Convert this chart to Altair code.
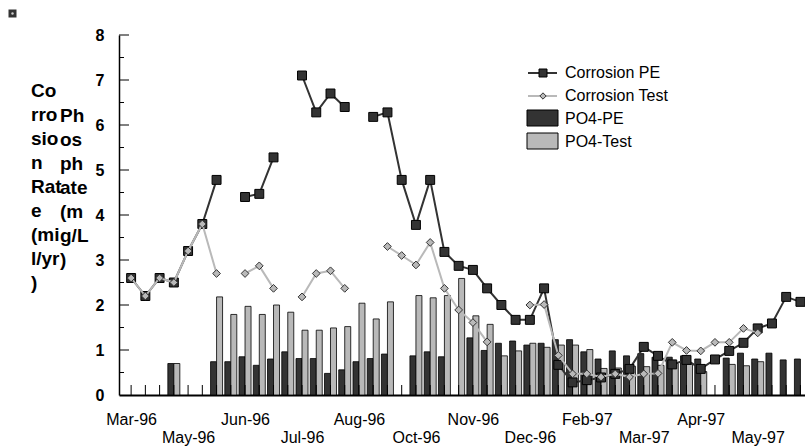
import altair as alt
import pandas as pd

# Weekly sampling index (0 = first week of Mar-96)
idx = list(range(48))

corrosion_pe = [2.6, 2.2, 2.6, 2.5, 3.2, 3.8, 4.78, None, 4.4, 4.47, 5.28, None,
                7.1, 6.28, 6.7, 6.4, None, 6.18, 6.28, 4.78, 3.78, 4.78, 3.18, 2.87,
                2.78, 2.37, 2.0, 1.67, 1.67, 2.37, 0.67, 0.28, 0.33, 0.39, 0.47, 0.58,
                1.07, 0.87, 0.68, 0.78, 0.58, 0.79, 0.98, 1.16, 1.48, 1.59, 2.18, 2.07]

corrosion_test = [2.6, 2.2, 2.6, 2.5, 3.2, 3.8, 2.7, None, 2.7, 2.87, 2.37, None,
                  2.18, 2.7, 2.76, 2.37, None, None, 3.3, 3.1, 2.89, 3.39, 2.37, 1.89,
                  1.61, 1.18, None, None, 2.0, 2.01, 0.88, 0.47, 0.47, 0.4, 0.47, 0.4,
                  0.47, 0.48, 1.17, 0.99, 0.98, 1.17, 1.17, 1.48, 1.38, None, None, None]

po4_pe = [None, None, None, 0.7, None, None, 0.74, 0.74, 0.85, 0.66, 0.8, 0.96,
          0.81, 0.81, 0.48, 0.56, 0.74, 0.81, 0.91, None, 0.87, 0.96, 0.85, None,
          1.27, 0.99, 1.15, 1.2, 1.11, 1.15, 1.23, 1.23, 0.96, 0.8, 0.98, 0.87,
          0.92, 0.84, 0.84, 0.87, 0.8, None, 0.82, 0.93, 0.8, 0.93, 0.78, 0.8]

po4_test = [None, None, None, 0.7, None, None, 2.18, 1.79, 1.97, 1.79, 2.0, 1.84,
            1.44, 1.44, 1.49, 1.52, 2.04, 1.69, 2.07, None, 2.21, 2.16, 2.21, 2.59,
            1.76, 1.57, 0.87, 0.98, 1.15, 1.06, 1.11, 1.11, 1.01, 0.59, 0.6, 0.64,
            0.63, 0.66, 0.7, 0.68, 0.52, None, 0.68, 0.65, 0.74, None, None, None]

label_idx = [0, 4, 8, 12, 16, 20, 24, 28, 32, 36, 40, 44]
month_labels = ["Mar-96", "May-96", "Jun-96", "Jul-96", "Aug-96", "Oct-96",
                "Nov-96", "Dec-96", "Feb-97", "Mar-97", "Apr-97", "May-97"]

y_major = [1, 2, 3, 4, 5, 6, 7, 8]
y_minor = [0.5, 1.5, 2.5, 3.5, 4.5, 5.5, 6.5, 7.5]

FONT = "Liberation Sans"
DARK = "#333333"
LIGHT = "#b9b9b9"
W, H = 686, 360


def runs(values):
    """Rows for the valid points, with a segment id so gaps break the line."""
    rows, seg, prev = [], 0, False
    for i, v in zip(idx, values):
        if v is None:
            prev = False
            continue
        if not prev:
            seg += 1
        rows.append({"idx": i, "value": v, "seg": seg})
        prev = True
    return pd.DataFrame(rows)


pe_df = runs(corrosion_pe)
test_df = runs(corrosion_test)
bar_pe_df = runs(po4_pe)
bar_test_df = runs(po4_test)
idx_df = pd.DataFrame({"idx": idx})
major_df = pd.DataFrame({"v": y_major})
minor_df = pd.DataFrame({"v": y_minor})
one = pd.DataFrame({"k": [0]})  # single row for one-off annotation marks

x_scale = alt.Scale(domain=[-0.5, 46.97], nice=False, zero=False)
y_scale = alt.Scale(domain=[0, 8], nice=False)

labels_js = "[" + ",".join("'%s'" % t for t in month_labels) + "]"
pos_js = "[" + ",".join(str(v) for v in label_idx) + "]"
k_js = "indexof(%s, datum.value)" % pos_js
label_expr = "%s %% 2 == 0 ? %s[%s] : ['', %s[%s]]" % (k_js, labels_js, k_js, labels_js, k_js)

x_axis = alt.Axis(values=label_idx, labelExpr=label_expr, ticks=False, tickSize=0,
                  grid=False, domainColor="black", domainWidth=2,
                  labelFont=FONT, labelFontSize=16, labelColor="black",
                  labelPadding=29, labelBaseline="alphabetic", labelLineHeight=18.5,
                  labelOverlap=False, labelFlush=False, title=None)
y_axis = alt.Axis(values=list(range(9)), ticks=False, tickSize=0, grid=False,
                  domainColor="black", domainWidth=1.5,
                  labelFont=FONT, labelFontSize=16, labelFontWeight="bold",
                  labelColor="black", labelPadding=15, labelFlush=False, title=None)

X = alt.X("idx:Q", scale=x_scale, axis=x_axis)
Y = alt.Y("value:Q", scale=y_scale, axis=y_axis)

bars_pe = alt.Chart(bar_pe_df).mark_bar(
    width=6, xOffset=-3, fill=DARK, stroke="black", strokeWidth=0.8
).encode(x=X, y=Y)
bars_test = alt.Chart(bar_test_df).mark_bar(
    width=6, xOffset=3, fill=LIGHT, stroke="black", strokeWidth=0.8
).encode(x=X, y=Y)

# category ticks rising from the baseline
cat_ticks = alt.Chart(idx_df).mark_rule(color="black", strokeWidth=1).encode(
    x=alt.X("idx:Q", scale=x_scale, axis=x_axis),
    y=alt.value(H), y2=alt.value(H - 10))

# inside ticks on the value axis
major_ticks = alt.Chart(major_df).mark_rule(color="black", strokeWidth=1).encode(
    y=alt.Y("v:Q", scale=y_scale, axis=y_axis), x=alt.value(0), x2=alt.value(10))
minor_ticks = alt.Chart(minor_df).mark_rule(color="black", strokeWidth=1).encode(
    y=alt.Y("v:Q", scale=y_scale, axis=y_axis), x=alt.value(0), x2=alt.value(5))

pe_line = alt.Chart(pe_df).mark_line(color=DARK, strokeWidth=2).encode(
    x=X, y=Y, detail="seg:N")
pe_pts = alt.Chart(pe_df).mark_point(
    shape="square", filled=True, size=80, fill=DARK, stroke="black", strokeWidth=1, opacity=1
).encode(x=X, y=Y)

test_line = alt.Chart(test_df).mark_line(color=LIGHT, strokeWidth=2).encode(
    x=X, y=Y, detail="seg:N")
test_pts = alt.Chart(test_df).mark_point(
    shape="diamond", filled=True, size=60, fill=LIGHT, stroke=DARK, strokeWidth=1, opacity=1
).encode(x=X, y=Y)

# legend
LX0, LX1, LXC, LTX = 409, 438, 424, 446
leg = [
    alt.Chart(one).mark_rule(color=DARK, strokeWidth=2).encode(
        x=alt.value(LX0), x2=alt.value(LX1), y=alt.value(38)),
    alt.Chart(one).mark_point(shape="square", filled=True, size=64, fill=DARK,
                              stroke="black", strokeWidth=1, opacity=1).encode(
        x=alt.value(LXC), y=alt.value(38)),
    alt.Chart(one).mark_rule(color=LIGHT, strokeWidth=2).encode(
        x=alt.value(LX0), x2=alt.value(LX1), y=alt.value(61)),
    alt.Chart(one).mark_point(shape="diamond", filled=True, size=40, fill=LIGHT,
                              stroke=DARK, strokeWidth=1, opacity=1).encode(
        x=alt.value(LXC), y=alt.value(61)),
    alt.Chart(one).mark_rect(fill=DARK, stroke="black", strokeWidth=1).encode(
        x=alt.value(408), x2=alt.value(439), y=alt.value(75), y2=alt.value(91)),
    alt.Chart(one).mark_rect(fill=LIGHT, stroke="black", strokeWidth=1).encode(
        x=alt.value(408), x2=alt.value(439), y=alt.value(98), y2=alt.value(114)),
]
for ty, txt in [(38, "Corrosion PE"), (61, "Corrosion Test"), (84, "PO4-PE"), (107, "PO4-Test")]:
    leg.append(alt.Chart(one).mark_text(
        text=txt, align="left", baseline="middle", font=FONT, fontSize=16, color="black"
    ).encode(x=alt.value(LTX), y=alt.value(ty)))

# axis titles, wrapped into narrow columns
title_corr = alt.Chart(one).mark_text(
    text=["Co", "rro", "sio", "n", "Rat", "e", "(mi", "l/yr", ")"],
    align="left", baseline="alphabetic", lineHeight=24,
    font=FONT, fontSize=19, fontWeight="bold", color="black"
).encode(x=alt.value(-88), y=alt.value(62))
title_po4 = alt.Chart(one).mark_text(
    text=["Ph", "os", "ph", "ate", "(m", "g/L", ")"],
    align="left", baseline="alphabetic", lineHeight=24,
    font=FONT, fontSize=19, fontWeight="bold", color="black"
).encode(x=alt.value(-59), y=alt.value(87))

# small image placeholder at the top-left corner
icon = alt.Chart(one).mark_point(shape="square", filled=True, size=64, fill=DARK,
                                 opacity=1).encode(x=alt.value(-106.5), y=alt.value(-21.5))
icon_dot = alt.Chart(one).mark_point(shape="circle", filled=True, size=6, fill="#cccccc",
                                     opacity=1).encode(x=alt.value(-106.5), y=alt.value(-21.5))

chart = alt.layer(
    bars_pe, bars_test, cat_ticks, major_ticks, minor_ticks,
    pe_line, pe_pts, test_line, test_pts,
    *leg, title_corr, title_po4, icon, icon_dot
).properties(
    width=W, height=H,
    padding={"left": 119, "top": 35, "right": 0, "bottom": 53},
    autosize=alt.AutoSizeParams(type="none"),
    background="white",
).configure_view(stroke=None)

chart.save("out.html", embed_options={"renderer": "svg", "actions": False})
